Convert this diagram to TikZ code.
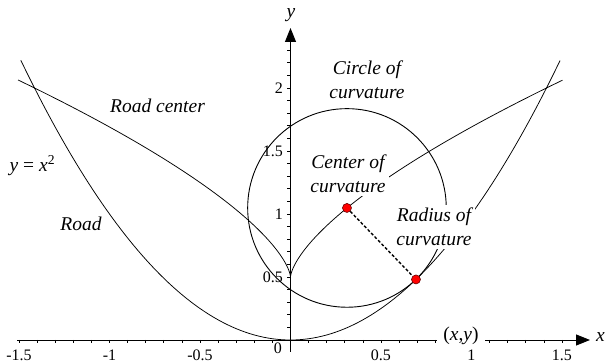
\documentclass[tikz,border=0pt]{standalone}
\usepackage{fontspec}
\setmainfont{Liberation Serif}
\usetikzlibrary{arrows.meta}
\begin{document}
\begin{tikzpicture}[x=181pt,y=126pt,
  axis/.style={line width=0.9pt,-{Triangle[length=14pt,width=11pt]}},
  curve/.style={line width=0.75pt},
  circ/.style={line width=0.9pt},
  lbl/.style={font=\fontsize{19.5}{24}\selectfont\itshape, align=center, fill=white, inner sep=3pt},
  plainlbl/.style={font=\fontsize{19.5}{24}\selectfont\itshape, inner sep=0pt},
  tickmark/.style={line width=0.6pt},
  ticklbl/.style={font=\fontsize{16}{18}\selectfont, inner sep=0pt},
  dot/.style={circle, fill=red, draw=black!60!red, line width=0.6pt, minimum size=9pt, inner sep=0pt},
  radiusline/.style={line width=1.4pt, dash pattern=on 3pt off 2pt}]
\useasboundingbox (-290.5pt,-24pt) rectangle (315.5pt,340pt);

% axes
\coordinate (xs) at (-1.51,0);
\coordinate (xe) at (299.5pt,0pt);
\coordinate (ys) at (0pt,-12pt);
\coordinate (ye) at (0pt,312pt);
\draw[axis] (xs) -- (xe);
\draw[axis] (ys) -- (ye);

% ticks
\foreach \i in {-15,...,16} \draw[tickmark] (\i/10,0) -- ++(0pt,-3.5pt);
\foreach \i in {1,...,23} \draw[tickmark] (0,\i/10) -- ++(-3.5pt,0pt);

% tick labels
\foreach \v/\t in {-1.5/-1.5,-1/-1,-0.5/-0.5,0.5/0.5,1/1,1.5/1.5}
  \node[ticklbl, anchor=north] (xl\t) at ([yshift=-10pt]\v,0) {\t};
\node[ticklbl] (xl0) at (-12.5pt,-8pt) {0};
\foreach \v in {0.5,1,1.5,2}
  \node[ticklbl, anchor=east] (yl\v) at ([xshift=-7.5pt]0,\v) {\v};

% curves
\draw[curve] plot[domain=-1.49:1.49, samples=121] (\x,{\x*\x});
\draw[curve] plot[domain=-0.722:0.722, samples=145, variable=\t] ({4*\t*\t*\t},{0.5+3*\t*\t});

% circle of curvature
\coordinate (C) at (0.312,1.048);
\coordinate (P) at (0.6932,0.48053);
\draw[circ] (C) circle[radius=99.3pt];

% labels (opaque)
\node[lbl] (lcircle) at (76.5pt,260pt) {Circle of\\curvature};
\node[lbl] (lcenter) at (57.5pt,166pt) {Center of\\curvature};
\node[lbl] (lradius) at (143.5pt,113pt) {Radius of\\curvature};
\node[plainlbl, anchor=base] (lroadc) at (-133pt,227pt) {Road center};
\node[plainlbl, anchor=base] (lroad) at (-209.5pt,109pt) {Road};
\node[font=\fontsize{19.5}{24}\selectfont, inner sep=0pt, anchor=base west] (leq) at (-281pt,168pt) {\textit{y} = \textit{x}\textsuperscript{2}};
\node[font=\fontsize{19.5}{24}\selectfont, fill=white, inner xsep=6pt, inner ysep=1pt, anchor=base] (lxy) at (170.5pt,-1pt) {(\textit{x},\textit{y})};
\node[plainlbl, anchor=base west] (lx) at (305.5pt,-2pt) {x};
\node[plainlbl, anchor=base] (ly) at (0.5pt,322.5pt) {y};

% radius and points
\node[dot] (cdot) at (C) {};
\node[dot] (pdot) at (P) {};
\draw[radiusline] (cdot) -- (pdot);
\end{tikzpicture}
\end{document}
